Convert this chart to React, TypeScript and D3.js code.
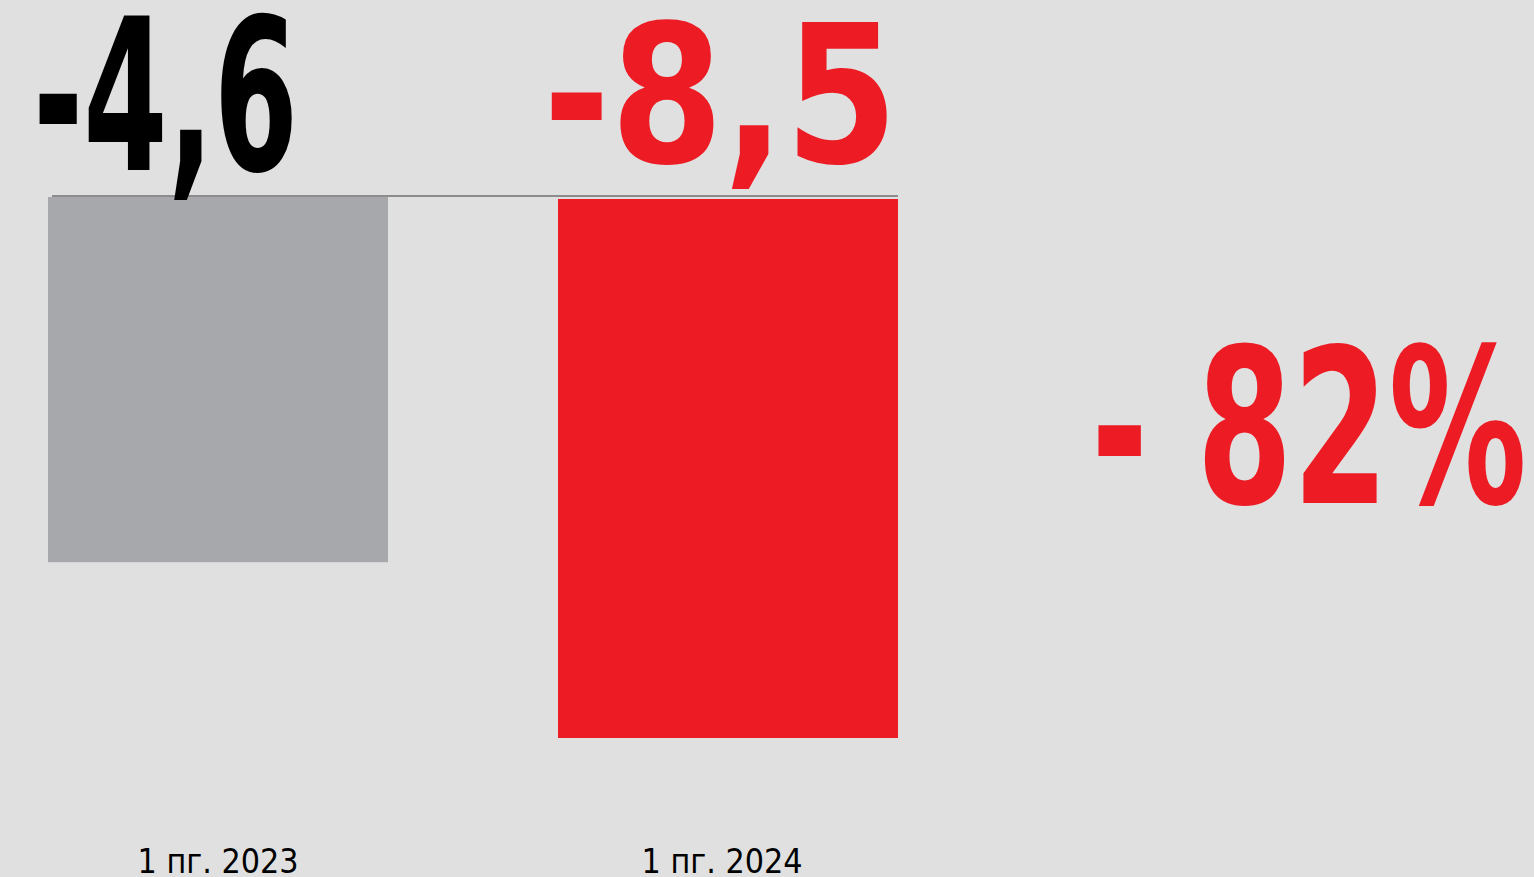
import React from "react";
import * as d3 from "d3";

const categories = ["1 пг. 2023", "1 пг. 2024"];
const values = [-4.6, -8.5];
const valueLabels = ["-4,6", "-8,5"];
const barColors = ["#a7a8ab", "#ed1c24"];
const labelColors = ["#000000", "#ed1c24"];
const changeLabel = "- 82%";
const axisTop = 3.5; // estimated axis top value (bars hang from the axis line)

const W = 1534;
const H = 877;

export default function App() {
  const x = d3.scaleBand<string>().domain(categories).range([48, 898]).paddingInner(1 / 3).paddingOuter(0);
  const y = d3.scaleLinear().domain([axisTop, -8.5]).range([197, 738]);

  return (
    <svg width={W} height={H} style={{ position: "absolute", left: 0, top: 0, display: "block" }}>
      <rect x={0} y={0} width={W} height={H} fill="#e0e0e0" />
      {categories.map((c, i) => (
        <rect key={c} x={x(c)} y={y(axisTop) + (i === 1 ? 2 : 0)} width={x.bandwidth()} height={y(values[i]) - y(axisTop) - (i === 1 ? 2 : 0)} fill={barColors[i]} />
      ))}
      <line x1={52} x2={898} y1={196} y2={196} stroke="#8c8c8c" strokeWidth={2} />
      {/* value labels */}
      <text x={(x(categories[0]) as number) - 15} y={170} fontFamily="'DejaVu Sans Condensed', 'DejaVu Sans'" fontWeight="bold" fontSize={213} fill={labelColors[0]} textLength={265} lengthAdjust="spacingAndGlyphs">{valueLabels[0]}</text>
      <text x={(x(categories[1]) as number) - 15} y={162} fontFamily="'DejaVu Sans'" fontWeight="bold" fontSize={192} fill={labelColors[1]} textLength={355} lengthAdjust="spacingAndGlyphs">{valueLabels[1]}</text>
      {/* change */}
      <text x={1091} y={503} fontFamily="'DejaVu Sans Condensed', 'DejaVu Sans'" fontWeight="bold" fontSize={215} fill="#ed1c24" textLength={436} lengthAdjust="spacingAndGlyphs">{changeLabel}</text>
      {/* category labels */}
      {categories.map((c, i) => (
        <text key={c} x={(x(c) as number) + x.bandwidth() / 2 - (i === 1 ? 6 : 0)} y={873} textAnchor="middle" fontFamily="'DejaVu Sans Condensed', 'DejaVu Sans'" fontSize={34} fill="#000" textLength={161} lengthAdjust="spacingAndGlyphs">{c}</text>
      ))}
    </svg>
  );
}
